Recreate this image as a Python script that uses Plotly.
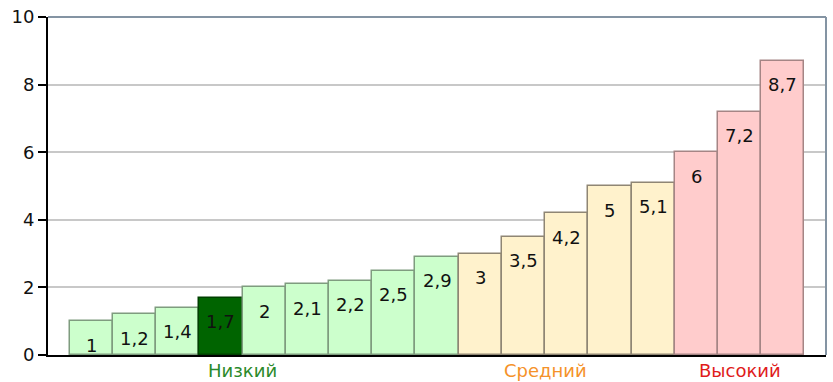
import plotly.graph_objects as go

values = [1, 1.2, 1.4, 1.7, 2, 2.1, 2.2, 2.5, 2.9, 3, 3.5, 4.2, 5, 5.1, 6, 7.2, 8.7]
groups = ["low"] * 9 + ["mid"] * 5 + ["high"] * 3
highlight_index = 3

group_names = ["Низкий", "Средний", "Высокий"]
group_label_x = [3.5, 10.5, 15]
group_label_colors = ["#2a8a2a", "#f5922a", "#e01b1b"]

fill_colors = {"low": "#ccffcc", "mid": "#fff2cc", "high": "#ffcccc"}
line_colors = {"low": "#7f9c7f", "mid": "#8f8674", "high": "#a58585"}

xs = list(range(len(values)))
fills = [fill_colors[g] for g in groups]
edges = [line_colors[g] for g in groups]
fills[highlight_index] = "#006400"
edges[highlight_index] = "#004000"

fig = go.Figure()
fig.add_trace(go.Bar(
    x=xs, y=values, width=1.0,
    marker=dict(color=fills, line=dict(color=edges, width=1.5)),
    hoverinfo="skip", showlegend=False,
))

font_family = "DejaVu Sans, Verdana, sans-serif"

# value labels near the top inside each bar
for x, v in zip(xs, values):
    txt = f"{v:g}".replace(".", ",")
    fig.add_annotation(x=x, y=v, text=txt, showarrow=False, yshift=-24,
                       font=dict(family=font_family, size=18, color="#111111"))

# group captions under the axis
for name, gx, col in zip(group_names, group_label_x, group_label_colors):
    fig.add_annotation(x=gx, y=0, yref="y", text=name, showarrow=False, yshift=-15,
                       font=dict(family=font_family, size=18, color=col))

# top and right frame lines
fig.add_shape(type="line", xref="paper", yref="paper", x0=0, x1=1, y0=1, y1=1,
              line=dict(color="#8494a3", width=2))
fig.add_shape(type="line", xref="paper", yref="paper", x0=1, x1=1, y0=0, y1=1,
              line=dict(color="#8494a3", width=2))

fig.update_layout(
    width=833, height=382,
    margin=dict(l=48, r=7, t=17, b=27),
    plot_bgcolor="white", paper_bgcolor="white",
    bargap=0,
    xaxis=dict(range=[-1.0, 17.0], showticklabels=False, showgrid=False, zeroline=False,
               showline=True, linecolor="black", linewidth=2, ticks=""),
    yaxis=dict(range=[0, 10], tickvals=[0, 2, 4, 6, 8, 10],
               showgrid=True, gridcolor="#c8c8c8", gridwidth=1.5, zeroline=False,
               showline=True, linecolor="black", linewidth=2,
               ticks="outside", ticklen=8, tickwidth=2, tickcolor="black",
               tickfont=dict(family=font_family, size=18, color="#111111")),
    font=dict(family=font_family),
)

fig.write_html("out.html")
